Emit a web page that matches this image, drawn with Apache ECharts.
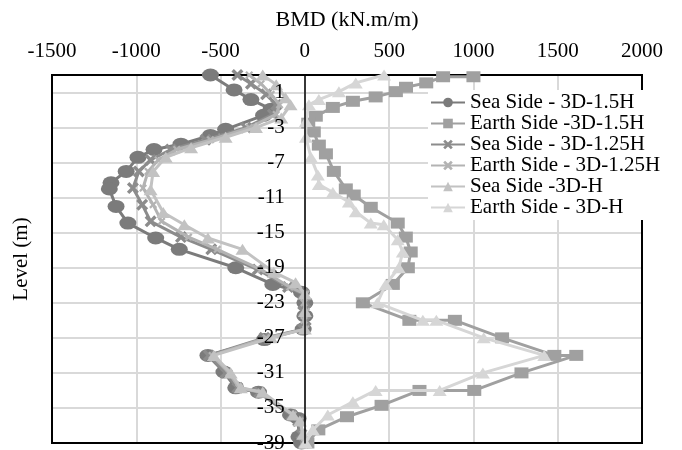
<!DOCTYPE html>
<html>
<head>
<meta charset="utf-8">
<script src="https://cdn.jsdelivr.net/npm/echarts@6/dist/echarts.min.js"></script>
<style>html,body{margin:0;padding:0;background:#fff}#c{width:682px;height:450px}</style>
</head>
<body>
<div id="c"></div>
<script>
// Tick labels
const xTicks = [-1500, -1000, -500, 0, 500, 1000, 1500, 2000];
const yTicks = [-39, -35, -31, -27, -23, -19, -15, -11, -7, -3, 1];

// Series names
const names = ["Sea Side - 3D-1.5H", "Earth Side -3D-1.5H", "Sea Side - 3D-1.25H",
  "Earth Side - 3D-1.25H", "Sea Side -3D-H", "Earth Side - 3D-H"];

// Sea Side - 3D-1.5H
const seaLev15 = [3, 1.3, 0.2, -0.9, -1.6, -3.2, -3.9, -4.9, -5.5, -6.4, -8, -9.3, -10, -12, -13.9, -15.6, -16.9, -19, -20.9, -21.8, -23, -24.5, -26, -27.2, -29, -30.9, -32.7, -33.2, -35.8, -36.2, -38.3, -39];
const seaVal15 = [-560, -420, -320, -200, -245, -470, -560, -735, -895, -990, -1060, -1150, -1160, -1120, -1050, -885, -745, -410, -190, -20, 0, 0, -10, -240, -575, -480, -410, -275, -85, -40, -35, -20];

// Earth Side -3D-1.5H
const earthLev15 = [2.8, 2.8, 2.1, 1.6, 1.1, 0.5, 0, -0.7, -1.7, -2.5, -3.5, -5, -6, -8, -10, -10.7, -12.1, -13.9, -15.5, -17.2, -19, -20.9, -23, -25, -25, -27, -29, -29, -31, -33, -33, -34.7, -36, -37.5, -39];
const earthVal15 = [1000, 820, 720, 600, 540, 420, 285, 166, 65, 20, 53, 83, 125, 172, 243, 290, 391, 551, 599, 628, 611, 522, 344, 620, 890, 1170, 1480, 1610, 1285, 1005, 680, 455, 250, 80, 15];

// Sea Side - 3D-1.25H
const seaLev125 = [3, 2, 0.8, -0.4, -1.5, -3, -4.4, -5.5, -6.7, -8, -9.9, -11.8, -13.7, -15.5, -16.9, -19.2, -21.2, -22, -23, -24, -25, -26, -27, -29, -31, -32.7, -33.2, -35.8, -36.5, -38, -39];
const seaVal125 = [-400, -320, -230, -170, -190, -350, -590, -795, -915, -985, -1020, -965, -915, -735, -555, -280, -100, -10, 5, -10, 5, -10, -240, -570, -470, -400, -270, -80, -40, -20, -5];

// Earth Side - 3D-1.25H
const earthLev125 = [3, 2, 0.8, -0.4, -1.5, -3, -4.4, -5.5, -6.7, -8, -9.9, -11.8, -13.7, -15.5, -16.9, -19.2, -21.2, -22, -23, -24, -25, -26, -27, -29, -31, -32.7, -33.2, -35.8, -36.5, -38, -39];
const earthVal125 = [-330, -260, -200, -150, -170, -330, -560, -760, -870, -930, -960, -900, -850, -690, -520, -260, -90, 5, -5, 8, -5, 5, -230, -550, -450, -390, -260, -70, -30, -10, 0];

// Sea Side -3D-H
const seaLevH = [3, 1.9, 0.4, -0.4, -1.9, -3, -4.1, -5.3, -6.4, -8, -10.1, -12.7, -14.1, -15.6, -16.9, -19.5, -20.7, -22, -24, -26, -27, -29, -31, -32.7, -33.2, -35.8, -36.5, -38, -39];
const seaValH = [-250, -170, -115, -85, -140, -290, -470, -675, -825, -900, -915, -840, -715, -575, -370, -185, -55, 0, 0, 0, -200, -540, -440, -380, -250, -70, -30, -10, 0];

// Earth Side - 3D-H
const earthLevH = [3, 2.1, 1.1, 0.2, -0.4, -2.3, -4.1, -6.4, -8.4, -9.5, -10.4, -11.5, -12.6, -13.9, -14.1, -15.8, -17.2, -19, -20.9, -23, -25, -25, -27, -29, -31, -33, -33, -34.3, -35.8, -37.5, -39];
const earthValH = [470, 302, 202, 83, 24, 6, 6, 36, 77, 83, 166, 261, 302, 391, 468, 551, 581, 557, 480, 430, 700, 780, 1061, 1420, 1056, 800, 420, 285, 136, 47, 5];

const pairs = (vals, levs) => vals.map((v, i) => [v, levs[i]]);

const font = "'Liberation Serif', 'Times New Roman', serif";
const xSym = 'path://M2,0 L5,3 L8,0 L10,2 L7,5 L10,8 L8,10 L5,7 L2,10 L0,8 L3,5 L0,2 Z';
const triSym = 'path://M5,0 L10,10 L0,10 Z';

const styles = [
  {color: '#7b7b7b', symbol: 'circle', size: [17, 13]},
  {color: '#a0a0a0', symbol: 'rect', size: [14, 11]},
  {color: '#8c8c8c', symbol: xSym, size: [12, 12]},
  {color: '#b3b3b3', symbol: xSym, size: [8, 8]},
  {color: '#c2c2c2', symbol: triSym, size: [14, 11]},
  {color: '#d6d6d6', symbol: triSym, size: [14, 11]}
];
const datas = [
  pairs(seaVal15, seaLev15), pairs(earthVal15, earthLev15),
  pairs(seaVal125, seaLev125), pairs(earthVal125, earthLev125),
  pairs(seaValH, seaLevH), pairs(earthValH, earthLevH)
];

const gridL = 52, gridR = 40, W = 682;
const xMin = xTicks[0], xMax = xTicks[xTicks.length - 1];
// shift the label y axis (line + labels) onto x = 0
const yOffset = -((W - gridL - gridR) * (0 - xMin) / (xMax - xMin));

const chart = echarts.init(document.getElementById('c'), null, {renderer: 'canvas'});
chart.setOption({
  animation: false,
  backgroundColor: '#fff',
  textStyle: {fontFamily: font, color: '#000'},
  grid: {left: gridL, right: gridR, top: 75, bottom: 7, containLabel: false, outerBoundsMode: 'none',
    show: true, borderColor: '#000', borderWidth: 2, backgroundColor: 'transparent', z: 1},
  xAxis: {
    type: 'value', position: 'top', min: xMin, max: xMax, interval: 500, z: 0,
    axisLine: {show: false, onZero: false},
    axisTick: {show: false},
    axisLabel: {fontSize: 21, color: '#000', fontFamily: font, margin: 13, hideOverlap: false,
      showMinLabel: true, showMaxLabel: true, formatter: v => String(v)},
    splitLine: {show: true, lineStyle: {color: '#d9d9d9', width: 2}},
    name: 'BMD (kN.m/m)', nameLocation: 'middle', nameGap: 44,
    nameTextStyle: {fontSize: 22, color: '#000', fontFamily: font}
  },
  yAxis: [{
    type: 'value', min: -39, max: 3, z: 0, position: 'left',
    axisLine: {show: false, onZero: false},
    axisTick: {show: false, customValues: yTicks},
    axisLabel: {show: false, customValues: yTicks},
    splitLine: {show: true, lineStyle: {color: '#d9d9d9', width: 2}}
  }, {
    type: 'value', min: -39, max: 3, z: 9, position: 'left', offset: yOffset,
    axisLine: {show: true, onZero: false, lineStyle: {color: '#000', width: 1.5}},
    axisTick: {show: false, customValues: yTicks},
    axisLabel: {fontSize: 21, color: '#000', fontFamily: font, margin: 20, customValues: yTicks,
      hideOverlap: false, formatter: v => String(v)},
    splitLine: {show: false}
  }],
  graphic: [{
    type: 'text', x: 21, y: 259, rotation: Math.PI / 2,
    style: {text: 'Level (m)', font: "21px 'Liberation Serif'", fill: '#000',
      align: 'center', verticalAlign: 'middle'}
  }],
  legend: {
    orient: 'vertical', left: 428, top: 90, z: 10,
    itemWidth: 34, itemHeight: 12, itemGap: 0,
    backgroundColor: '#fff', padding: [2, 2, 2, 2],
    textStyle: {fontSize: 21, fontFamily: font, color: '#000', lineHeight: 20},
    data: names
  },
  series: names.map((n, i) => ({
    name: n, type: 'line', data: datas[i], yAxisIndex: 0,
    symbol: styles[i].symbol, symbolSize: styles[i].size,
    showAllSymbol: true, clip: false,
    lineStyle: {color: styles[i].color, width: 3},
    itemStyle: {color: styles[i].color, borderWidth: 0},
    emphasis: {disabled: true},
    z: 2 + i
  }))
});
</script>
</body>
</html>
